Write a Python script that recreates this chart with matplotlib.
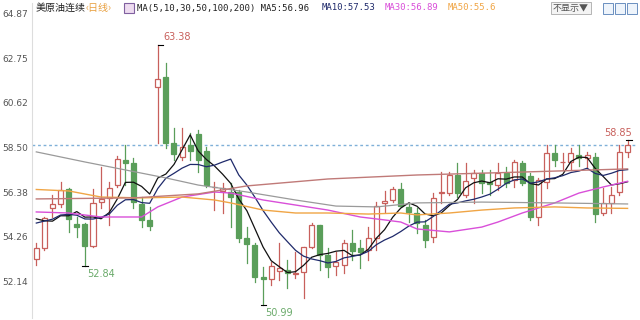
# 美原油连续 日线 K线图 + 均线
import matplotlib
matplotlib.use('Agg')
import matplotlib.pyplot as plt
from matplotlib.patches import Rectangle
import pandas as pd

plt.rcParams['font.family'] = ['Noto Sans CJK SC', 'DejaVu Sans']

# K线数据 (开, 高, 低, 收)
opens = [53.19, 53.71, 55.62, 55.81, 56.52, 54.86, 54.86, 53.81, 55.90, 56.10,
         56.71, 57.90, 57.76, 55.81, 55.05, 61.38, 61.86, 58.71, 58.05, 58.62,
         59.14, 58.33, 56.60, 56.43, 56.38, 56.38, 54.19, 53.86, 52.33, 52.24,
         52.62, 52.67, 52.48, 52.57, 53.76, 54.81, 53.38, 52.86, 52.90, 53.95,
         53.71, 53.62, 54.19, 55.86, 56.00, 56.52, 55.67, 55.38, 54.81, 54.24,
         56.33, 56.33, 57.19, 56.24, 57.05, 57.29, 56.86, 56.71, 57.29, 56.95,
         57.76, 57.14, 55.19, 56.86, 58.24, 57.81, 57.81, 58.14, 58.00, 58.05,
         55.38, 55.86, 56.38, 58.29]
highs = [53.95, 55.19, 56.24, 56.86, 56.57, 55.19, 54.90, 56.52, 57.57, 56.86,
         58.10, 58.62, 58.00, 56.14, 55.67, 63.38, 62.52, 59.43, 59.43, 59.19,
         59.33, 58.52, 56.86, 56.81, 56.81, 56.48, 54.71, 53.95, 52.81, 53.05,
         53.95, 53.14, 53.52, 53.76, 54.90, 54.81, 53.71, 53.52, 54.10, 54.57,
         54.10, 54.71, 55.90, 56.43, 56.62, 56.81, 55.86, 55.62, 55.05, 56.33,
         57.33, 57.33, 57.76, 57.76, 57.43, 57.43, 57.43, 57.76, 57.57, 57.90,
         57.86, 57.29, 57.05, 58.62, 58.62, 58.24, 58.48, 58.62, 58.30, 58.24,
         56.57, 56.62, 58.62, 58.85]
lows = [52.90, 53.62, 55.19, 55.67, 54.48, 54.24, 52.84, 53.76, 55.62, 54.81,
        56.62, 56.71, 55.62, 54.71, 54.57, 58.71, 58.48, 57.90, 57.90, 57.90,
        57.33, 56.62, 55.52, 55.38, 54.71, 54.00, 53.02, 52.10, 50.99, 51.95,
        52.19, 51.81, 52.29, 51.33, 53.71, 52.67, 52.33, 52.43, 52.52, 53.14,
        52.76, 53.14, 53.62, 55.43, 55.90, 55.67, 54.95, 54.43, 53.74, 54.00,
        55.86, 56.24, 56.14, 56.14, 55.86, 56.33, 56.24, 56.48, 56.62, 56.62,
        56.71, 55.05, 54.81, 56.57, 57.60, 57.43, 57.43, 57.60, 57.50, 54.95,
        55.29, 55.38, 56.24, 58.05]
closes = [53.71, 55.14, 55.81, 56.48, 55.10, 54.71, 53.81, 55.86, 56.05, 56.57,
          57.95, 57.76, 55.90, 55.05, 54.76, 61.76, 58.71, 58.19, 58.52, 58.33,
          57.90, 56.71, 56.64, 56.57, 56.14, 54.19, 53.90, 52.33, 52.24, 52.88,
          52.76, 52.52, 52.52, 53.76, 54.81, 53.38, 52.81, 53.05, 53.95, 53.57,
          53.52, 54.19, 55.71, 55.95, 56.52, 55.71, 55.43, 54.90, 54.10, 56.10,
          56.38, 57.19, 56.33, 56.90, 57.29, 56.81, 56.76, 57.29, 56.81, 57.81,
          56.81, 55.19, 56.95, 58.24, 57.90, 57.83, 58.24, 58.00, 58.14, 55.33,
          55.86, 56.24, 58.29, 58.62]
# 图表左侧之前的收盘价 (用于MA5/MA10)
pre_closes = [54.2, 54.9, 54.5, 54.8, 55.1, 55.6, 55.9, 55.2, 55.1]

# 长周期均线 (从图上读取的采样点)
ma30_idx = [0, 4, 8, 13, 15, 18, 22, 24, 28, 32, 36, 40, 43, 45, 47, 51, 55, 57, 60, 64, 67, 70, 73]
ma30_val = [55.43, 55.38, 55.19, 55.19, 55.67, 56.14, 56.38, 56.33, 56.00, 55.76, 55.52, 55.19,
            55.05, 54.95, 54.62, 54.48, 54.71, 54.95, 55.38, 55.86, 56.33, 56.62, 56.89]
ma50_idx = [0, 4, 8, 13, 18, 22, 24, 28, 32, 36, 41, 45, 47, 51, 55, 59, 64, 68, 73]
ma50_val = [56.50, 56.43, 56.14, 56.10, 56.14, 56.00, 55.86, 55.52, 55.38, 55.38, 55.33, 55.38,
            55.29, 55.38, 55.52, 55.62, 55.67, 55.62, 55.60]
ma100_idx = [0, 6, 11, 16, 20, 26, 32, 37, 42, 47, 55, 64, 73]
ma100_val = [58.29, 57.81, 57.43, 57.05, 56.71, 56.38, 56.00, 55.71, 55.67, 55.86, 55.90, 55.86, 55.81]
ma200_idx = [0, 12, 20, 26, 36, 47, 60, 73]
ma200_val = [56.05, 56.10, 56.29, 56.67, 57.00, 57.19, 57.33, 57.48]

yticks = [64.87, 62.75, 60.62, 58.50, 56.38, 54.26, 52.14]

up_col = '#c8605c'
down_col = '#5a9e5a'

fig = plt.figure(figsize=(6.4, 3.2), dpi=100)
ax = fig.add_axes([32 / 640, 2 / 320, 604 / 640, 315 / 320])
ax.set_xlim(-0.53, 74.04)
ax.set_ylim(50.38, 65.38)

# K线
w = 0.62
for i, (o, h, l, c) in enumerate(zip(opens, highs, lows, closes)):
    if c >= o:
        ax.plot([i, i], [l, h], color=up_col, lw=0.9, zorder=2)
        ax.add_patch(Rectangle((i - w / 2, o), w, max(c - o, 0.02), facecolor='white',
                               edgecolor=up_col, lw=0.9, zorder=3))
    else:
        ax.plot([i, i], [l, h], color=down_col, lw=0.9, zorder=2)
        ax.add_patch(Rectangle((i - w / 2, c), w, o - c, facecolor=down_col,
                               edgecolor=down_col, lw=0.9, zorder=3))

# 均线
s = pd.Series(pre_closes + closes)
n = len(pre_closes)
ma5 = s.rolling(5).mean().iloc[n:].values
ma10 = s.rolling(10).mean().iloc[n:].values
xs = list(range(len(closes)))
ax.plot(xs, ma5, color='#111111', lw=0.9, zorder=4)
ax.plot(xs, ma10, color='#1f2a6b', lw=0.9, zorder=4)
ax.plot(ma30_idx, ma30_val, color='#d94fd9', lw=1.0, zorder=4)
ax.plot(ma50_idx, ma50_val, color='#f0a545', lw=1.0, zorder=4)
ax.plot(ma100_idx, ma100_val, color='#9a9a9a', lw=0.9, zorder=4)
ax.plot(ma200_idx, ma200_val, color='#c07a78', lw=1.0, zorder=4)

# 最新价虚线
ax.axhline(closes[-1], color='#7fb0d8', lw=1.0, ls=(0, (2, 2)), zorder=1)

# 最高/最低标注
i_hi = highs.index(max(highs))
ax.plot([i_hi, i_hi + 0.7], [highs[i_hi]] * 2, color='black', lw=0.8, zorder=5)
ax.text(i_hi + 0.7, highs[i_hi] + 0.12, f'{highs[i_hi]:.2f}', color='#c8605c', fontsize=7,
        ha='left', va='bottom', family='DejaVu Sans')
for i_lo in [6, 28]:
    ax.plot([i_lo - 0.3, i_lo + 0.4], [lows[i_lo]] * 2, color='black', lw=0.8, zorder=5)
    ax.text(i_lo + 0.3, lows[i_lo] - 0.12, f'{lows[i_lo]:.2f}', color='#6aaa6a', fontsize=7,
            ha='left', va='top', family='DejaVu Sans')
ax.plot([len(closes) - 1 - 0.2, len(closes) - 1 + 0.5], [highs[-1]] * 2, color='black', lw=0.8, zorder=5)
ax.text(len(closes) - 1 + 0.5, highs[-1] + 0.1, f'{highs[-1]:.2f}', color='#c8605c', fontsize=7,
        ha='right', va='bottom', family='DejaVu Sans')

# 坐标轴
ax.set_yticks(yticks)
ax.set_yticklabels([f'{v:.2f}' for v in yticks], family='DejaVu Sans')
ax.tick_params(axis='y', length=0, labelsize=6.5, labelcolor='#555555', pad=3)
ax.set_xticks([])
for sp in ['top', 'right', 'bottom']:
    ax.spines[sp].set_visible(False)
ax.spines['left'].set_color('#dddddd')

# 顶部标题栏
fy = 1 - 8 / 320
fig.text(36 / 640, fy, '美原油连续', fontsize=7.2, color='#222222', va='center')
fig.text(85 / 640, fy, '‹日线›', fontsize=7.2, color='#e8a040', va='center')
fig.patches.append(Rectangle((124 / 640, 1 - 13 / 320), 10 / 640, 10 / 320, transform=fig.transFigure,
                             facecolor='#eedcf0', edgecolor='#8060a0', lw=0.8))
mono = 'DejaVu Sans Mono'
fig.text(137 / 640, fy, 'MA(5,10,30,50,100,200) MA5:56.96', fontsize=6.5, color='#222222',
         va='center', family=mono)
fig.text(322 / 640, fy, 'MA10:57.53', fontsize=6.5, color='#1f2a6b', va='center', family=mono)
fig.text(385 / 640, fy, 'MA30:56.89', fontsize=6.5, color='#d94fd9', va='center', family=mono)
fig.text(448 / 640, fy, 'MA50:55.6', fontsize=6.5, color='#f0a545', va='center', family=mono)
fig.text(571 / 640, fy, '不显示▼', fontsize=6.5, color='#555555', va='center', ha='center',
         family=['Noto Sans CJK SC', 'DejaVu Sans'],
         bbox=dict(boxstyle='square,pad=0.2', facecolor='#f4f4f4', edgecolor='#aaaaaa', lw=0.6))
for k, x0 in enumerate([603, 615, 627]):
    fig.patches.append(Rectangle((x0 / 640, 1 - 14 / 320), 10 / 640, 11 / 320, transform=fig.transFigure,
                                 facecolor='#eef4fb', edgecolor='#6a8fc0', lw=0.7))

fig.savefig('out.png', dpi=100)
